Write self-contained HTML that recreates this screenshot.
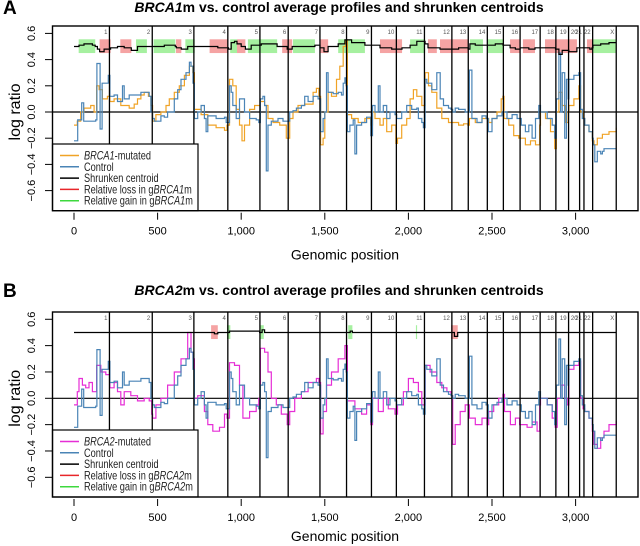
<!DOCTYPE html>
<html><head><meta charset="utf-8">
<style>
html,body{margin:0;padding:0;background:#fff;}
svg{display:block;font-family:"Liberation Sans",sans-serif;}
</style></head>
<body>
<svg id="chart" width="640" height="546" viewBox="0 0 640 546" xmlns="http://www.w3.org/2000/svg"></svg>
<script>
// ---- data ----
const chromEnds=[212,468,717,920,1112,1281,1471,1630,1779,1928,2096,2260,2358,2472,2568,2668,2788,2882,2958,3024,3050,3102,3243];
const chromNames=["1","2","3","4","5","6","7","8","9","10","11","12","13","14","15","16","17","18","19","20","21","22","X"];
const xTicks=[0,500,1000,1500,2000,2500,3000];
const xTickLabels=["0","500","1,000","1,500","2,000","2,500","3,000"];
const yTicks=[0.6,0.4,0.2,0.0,-0.2,-0.4,-0.6];
const yTickLabels=["0.6","0.4","0.2","0.0","\u22120.2","\u22120.4","\u22120.6"];

const controlPos=[0,22,46,58,130,137,156,168,205,215,240,260,290,300,330,400,420,450,460,470,480,520,540,560,600,620,640,670,690,700,712,720,740,760,780,790,800,850,900,910,930,940,950,970,990,1020,1050,1090,1105,1115,1130,1140,1150,1160,1180,1220,1250,1275,1290,1310,1330,1360,1380,1400,1430,1460,1475,1490,1500,1510,1520,1550,1580,1600,1610,1620,1628,1635,1650,1670,1680,1690,1720,1750,1775,1785,1800,1820,1830,1850,1870,1890,1920,1930,1960,1990,2020,2050,2060,2080,2090,2100,2110,2140,2170,2190,2210,2240,2255,2265,2280,2300,2340,2365,2380,2410,2440,2465,2478,2500,2530,2560,2570,2590,2620,2650,2675,2700,2720,2740,2760,2780,2790,2830,2860,2875,2885,2900,2910,2920,2935,2945,2955,2960,2990,3020,3030,3040,3055,3080,3100,3105,3115,3130,3150,3160,3170,3243];
const controlVal=[-0.22,-0.06,0.07,-0.07,-0.06,0.37,-0.13,0.22,0.28,0.12,0.13,0.08,0.2,0.1,0.13,0.15,0.15,0.12,0.0,-0.05,-0.07,-0.03,-0.04,0.0,0.1,0.17,0.25,0.3,0.38,0.35,0.22,-0.05,0.0,0.05,-0.05,-0.15,-0.03,-0.05,-0.04,-0.08,0.2,0.15,0.05,-0.05,0.1,0.0,-0.05,-0.06,-0.08,0.1,0.12,0.05,-0.45,-0.1,-0.07,-0.05,-0.07,-0.07,0.0,0.01,0.03,0.05,0.12,0.08,0.12,0.1,-0.15,-0.05,0.0,0.3,0.15,0.14,0.15,0.13,0.22,0.26,0.2,-0.15,-0.1,-0.06,-0.32,-0.1,-0.08,-0.04,-0.18,0.05,0.0,0.2,0.0,0.05,-0.05,0.0,-0.02,-0.05,0.0,0.05,0.02,0.03,-0.05,-0.08,-0.12,0.25,0.22,0.17,0.3,0.1,0.05,0.03,0.02,0.0,0.03,0.02,0.0,0.32,-0.05,-0.08,-0.03,-0.05,-0.15,-0.05,-0.03,0.0,0.0,-0.05,-0.02,-0.05,-0.1,-0.15,-0.1,-0.2,-0.05,0.05,0.0,-0.05,-0.1,-0.2,0.1,0.45,0.0,0.3,-0.2,0.25,0.1,0.25,0.28,0.3,0.02,-0.05,-0.1,-0.15,-0.2,-0.25,-0.38,-0.3,-0.32,-0.3,-0.28,-0.28];

const brca1Pos=[0,20,40,60,100,120,135,150,170,200,215,240,280,330,360,380,400,420,445,460,470,490,520,550,570,600,630,660,690,710,720,760,800,850,900,915,930,950,970,990,1005,1020,1050,1080,1105,1115,1140,1160,1190,1230,1270,1290,1310,1340,1380,1430,1450,1465,1475,1490,1500,1520,1540,1570,1590,1610,1625,1635,1660,1700,1740,1775,1785,1800,1830,1850,1870,1900,1925,1935,1960,1990,2010,2030,2050,2080,2100,2120,2140,2170,2200,2240,2265,2300,2330,2355,2365,2400,2440,2470,2480,2500,2530,2555,2565,2572,2600,2630,2660,2675,2700,2730,2760,2785,2790,2820,2850,2875,2885,2900,2920,2940,2955,2960,2990,3020,3030,3045,3055,3080,3100,3110,3130,3160,3200,3243];
const brca1Val=[-0.1,-0.07,0.0,0.03,0.05,0.0,0.2,0.17,0.1,0.12,0.08,0.1,0.05,0.03,0.06,0.1,0.13,0.15,0.12,0.05,-0.07,-0.02,0.0,0.05,0.1,0.15,0.2,0.28,0.35,0.3,0.02,-0.02,-0.1,-0.12,-0.14,-0.1,0.25,0.2,0.02,-0.1,-0.22,-0.1,0.02,0.05,0.05,0.08,0.05,-0.05,-0.08,-0.1,-0.2,-0.05,0.0,0.05,0.06,0.15,0.18,0.12,-0.25,-0.2,0.0,0.15,0.12,0.25,0.35,0.5,0.55,-0.02,-0.05,-0.08,-0.05,-0.1,0.0,-0.05,-0.1,-0.05,-0.15,-0.1,-0.24,-0.2,-0.1,-0.05,0.1,0.17,0.12,0.05,0.3,0.2,0.15,0.03,-0.05,-0.08,-0.08,-0.1,-0.09,-0.1,-0.05,-0.08,-0.05,-0.05,-0.08,-0.05,0.0,0.1,0.12,-0.05,-0.1,-0.18,-0.2,-0.2,-0.25,-0.22,-0.25,-0.1,0.0,-0.05,-0.15,-0.28,0.0,0.15,0.05,-0.08,0.0,0.05,0.1,0.2,0.0,-0.05,-0.1,-0.15,-0.22,-0.25,-0.2,-0.17,-0.15,-0.12];

const brca2Pos=[0,20,30,50,70,90,110,135,160,190,215,240,260,280,300,340,380,420,450,465,470,490,520,560,600,640,680,700,712,720,740,780,800,830,870,900,915,930,960,990,1010,1050,1090,1105,1115,1140,1160,1180,1210,1240,1275,1290,1320,1360,1400,1450,1465,1475,1490,1510,1540,1580,1620,1635,1680,1720,1750,1775,1785,1820,1850,1880,1920,1935,1970,2000,2030,2060,2080,2100,2130,2170,2200,2230,2255,2265,2280,2310,2340,2365,2400,2440,2470,2480,2510,2540,2565,2575,2610,2640,2665,2680,2710,2740,2770,2785,2790,2830,2860,2878,2890,2910,2935,2950,2960,2990,3020,3030,3045,3055,3080,3100,3110,3130,3150,3170,3200,3243];
const brca2Val=[-0.05,0.05,0.15,0.1,0.08,0.12,0.05,0.25,0.2,0.18,0.08,0.12,0.05,-0.05,0.05,0.02,-0.02,0.0,-0.02,-0.12,-0.15,-0.05,0.0,0.1,0.2,0.3,0.5,0.35,0.3,0.0,0.02,-0.1,-0.2,-0.25,-0.22,-0.12,-0.15,0.27,0.25,0.1,-0.15,-0.1,-0.05,0.0,0.38,0.35,0.2,0.0,-0.05,-0.12,-0.2,-0.1,0.0,0.05,0.12,0.15,0.12,-0.27,-0.1,0.1,0.2,0.3,0.4,-0.02,-0.08,-0.12,-0.05,-0.2,0.0,-0.1,0.0,-0.08,-0.12,-0.05,0.05,0.15,0.12,0.05,-0.05,0.25,0.2,0.12,0.08,0.05,0.02,-0.35,-0.2,-0.1,-0.05,-0.15,-0.2,-0.15,-0.2,-0.1,-0.05,0.0,0.03,-0.1,-0.2,-0.15,-0.2,-0.2,-0.22,-0.18,-0.25,-0.05,0.0,-0.05,-0.15,-0.22,0.0,0.1,0.0,-0.05,0.22,0.25,0.28,0.0,-0.08,-0.1,-0.15,-0.25,-0.35,-0.38,-0.3,-0.25,-0.2,-0.17];

const centroidAPos=[0,30,60,110,127,140,153,180,219,260,300,343,380,436,476,540,606,612,642,680,722,811,860,924,940,960,975,1000,1025,1060,1120,1215,1250,1275,1305,1350,1441,1471,1495,1520,1580,1620,1660,1740,1830,1900,1962,2010,2050,2100,2117,2150,2189,2250,2300,2357,2368,2400,2446,2476,2520,2566,2608,2640,2668,2685,2720,2757,2817,2880,2900,2920,2960,3008,3068,3085,3098,3104,3150,3200,3243];
const centroidAVal=[0.5,0.51,0.52,0.51,0.5,0.48,0.46,0.48,0.49,0.5,0.49,0.47,0.5,0.5,0.5,0.51,0.5,0.49,0.48,0.5,0.5,0.5,0.49,0.48,0.53,0.54,0.52,0.5,0.48,0.51,0.52,0.5,0.5,0.48,0.5,0.5,0.51,0.49,0.46,0.5,0.52,0.55,0.53,0.51,0.49,0.48,0.49,0.51,0.54,0.52,0.49,0.49,0.48,0.48,0.49,0.48,0.52,0.51,0.51,0.51,0.52,0.51,0.49,0.48,0.49,0.49,0.48,0.49,0.49,0.48,0.44,0.47,0.46,0.49,0.49,0.48,0.49,0.51,0.52,0.53,0.53];
const regionsAStart=[28,153,277,371,476,610,666,811,934,975,1040,1245,1310,1471,1580,1830,2010,2117,2189,2368,2476,2608,2685,2817,3068,3104];
const regionsAEnd=[127,219,343,436,606,642,722,924,975,1025,1215,1305,1441,1520,1740,1962,2100,2170,2357,2446,2566,2668,2757,3008,3098,3243];
const regionsAType=["g","r","r","g","g","r","g","r","g","r","g","r","g","r","g","r","g","r","r","g","g","r","r","r","r","g"];

const centroidBPos=[0,820,840,860,915,930,1110,1125,1140,1640,1652,1665,2255,2275,2295,3243];
const centroidBVal=[0.5,0.5,0.49,0.5,0.5,0.51,0.5,0.52,0.5,0.5,0.51,0.5,0.5,0.47,0.5,0.5];
const regionsBStart=[820,915,1110,1640,2045,2255];
const regionsBEnd=[860,935,1135,1665,2052,2295];
const regionsBType=["r","g","g","g","g","r"];

// ---- drawing ----
const NS="http://www.w3.org/2000/svg";
const svg=document.getElementById('chart');
const L=52.5,R=638;
function xs(g){return 74+g*0.1672;}
function mk(tag,attrs,parent){const e=document.createElementNS(NS,tag);for(const k in attrs)e.setAttribute(k,attrs[k]);(parent||svg).appendChild(e);return e;}

function stepPath(pos,val,ys){let d="";for(let i=0;i<pos.length;i++){const x=xs(pos[i]).toFixed(1),y=ys(val[i]).toFixed(1);if(i===0)d+="M"+x+","+y;else d+="H"+x+"V"+y;}return d;}

function panel(cfg){
  const ys=v=>cfg.y0-v*cfg.k;
  const g=mk('g',{});
  
  
  const pl=mk('text',{x:3,y:cfg.titleY+2,'font-size':19,'font-weight':'bold'},g);pl.textContent=cfg.letter;
  
  const t=mk('text',{x:339,y:cfg.titleY,'font-size':14,'font-weight':'bold','text-anchor':'middle'},g);
  
  t.innerHTML='<tspan font-style="italic">'+cfg.gene+'</tspan>m vs. control average profiles and shrunken centroids';
  for(let i=0;i<cfg.rs.length;i++){
    const r=mk('rect',{x:xs(cfg.rs[i]),y:ys(0.555),width:Math.max(1,xs(cfg.re[i])-xs(cfg.rs[i])),height:ys(0.45)-ys(0.555),fill:cfg.rt[i]==='r'?'#f5a3a3':'#a6f0a0'},g);
    
    
  }
  const z=mk('line',{x1:L,x2:R,y1:ys(0),y2:ys(0),stroke:'#000','stroke-width':1.2},g);
  
  const s1=mk('path',{d:stepPath(cfg.mp,cfg.mv,ys),fill:'none',stroke:cfg.mcol,'stroke-width':1.2},g);
  
  const s2=mk('path',{d:stepPath(controlPos,controlVal,ys),fill:'none',stroke:'#4a84b6','stroke-width':1.2},g);
  
  const s3=mk('path',{d:stepPath(cfg.cp,cfg.cv,ys),fill:'none',stroke:'#000','stroke-width':1.2},g);
  
  for(let i=0;i<chromEnds.length;i++){
    const x=xs(chromEnds[i]);
    const ln=mk('line',{x1:x,x2:x,y1:cfg.top,y2:cfg.bot,stroke:'#000','stroke-width':1.3},g);
    
    const lb=mk('text',{x:x-2,y:cfg.top+8,'font-size':6,'text-anchor':'end',fill:'#555'},g);
    lb.textContent=chromNames[i];
    
  }
  const lg=mk('g',{},g);
  
  mk('rect',{x:L,y:cfg.legTop,width:198-L,height:cfg.bot-cfg.legTop,fill:'#fff',stroke:'#000','stroke-width':1.2},lg);
  const items=[[cfg.mcol,'<tspan font-style="italic">'+cfg.gene+'</tspan>-mutated'],['#4a84b6','Control'],['#000','Shrunken centroid'],['#e8262a','Relative loss in g<tspan font-style="italic">'+cfg.gene+'</tspan>m'],['#3ed83e','Relative gain in g<tspan font-style="italic">'+cfg.gene+'</tspan>m']];
  items.forEach((it,i)=>{
    const y=cfg.legTop+11.5+i*11.3;
    const e=mk('g',{},lg);
    
    mk('line',{x1:60,x2:79,y1:y,y2:y,stroke:it[0],'stroke-width':1.5},e);
    const tx=mk('text',{x:0,y:0,'font-size':11.5,fill:'#222',transform:'translate(84,'+(y+4)+') scale(0.8,1)'},e);tx.innerHTML=it[1];
  });
  const bx=mk('rect',{x:L,y:cfg.top,width:R-L,height:cfg.bot-cfg.top,fill:'none',stroke:'#000','stroke-width':1.4},g);
  
  yTicks.forEach((v,i)=>{
    const y=ys(v);
    const tk=mk('line',{x1:45,x2:L,y1:y,y2:y,stroke:'#000'},g);
    
    const tl=mk('text',{x:0,y:0,'font-size':11,'text-anchor':'middle',transform:'translate(35,'+y+') rotate(-90)'},g);
    tl.textContent=yTickLabels[i];
    
  });
  const yt=mk('text',{x:0,y:0,'font-size':16,'text-anchor':'middle',transform:'translate(20,'+ys(0)+') rotate(-90)'},g);
  yt.textContent='log ratio';
  xTicks.forEach((v,i)=>{
    const x=xs(v);
    const tk=mk('line',{x1:x,x2:x,y1:cfg.bot+2,y2:cfg.bot+9,stroke:'#000'},g);
    
    const tl=mk('text',{x:x,y:cfg.bot+24,'font-size':11,'text-anchor':'middle'},g);
    tl.textContent=xTickLabels[i];
    
  });
  const xt=mk('text',{x:345,y:cfg.bot+cfg.xtOff,'font-size':14,'text-anchor':'middle'},g);
  xt.textContent='Genomic position';
}

panel({name:'panel-a',letter:'A',gene:'BRCA1',titleY:12,top:26,bot:210.7,y0:112,k:131,legTop:144,xtOff:49,mp:brca1Pos,mv:brca1Val,mcol:'#f0a326',cp:centroidAPos,cv:centroidAVal,rs:regionsAStart,re:regionsAEnd,rt:regionsAType});
panel({name:'panel-b',letter:'B',gene:'BRCA2',titleY:295,top:312,bot:497,y0:398.3,k:131.7,legTop:430,xtOff:44,mp:brca2Pos,mv:brca2Val,mcol:'#e62ed6',cp:centroidBPos,cv:centroidBVal,rs:regionsBStart,re:regionsBEnd,rt:regionsBType});
</script>
</body></html>
